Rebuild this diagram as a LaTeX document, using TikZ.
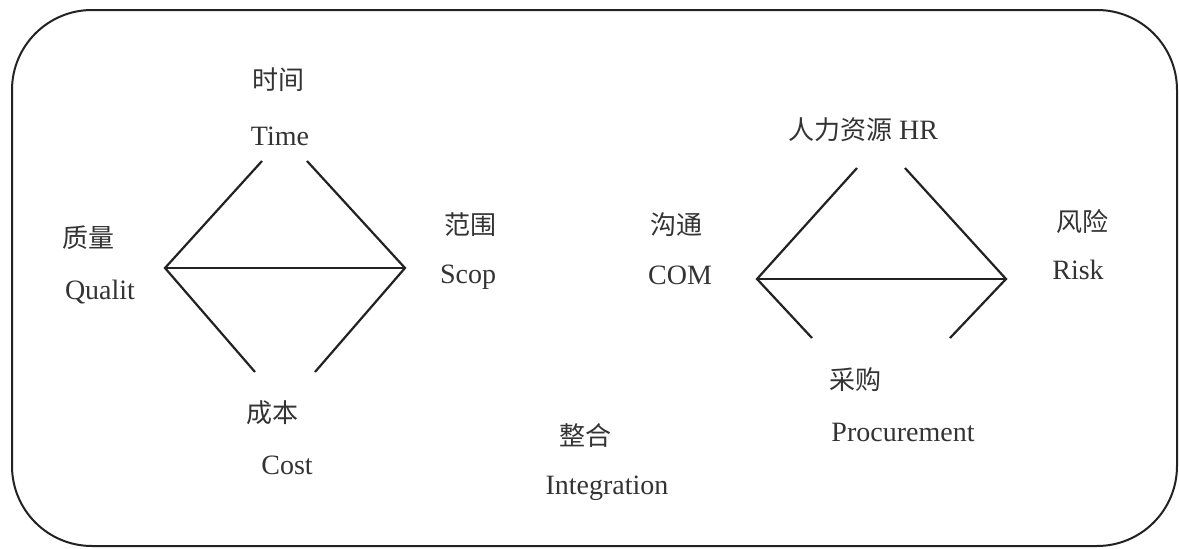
\documentclass[tikz,border=0pt]{standalone}
\usepackage{fontspec}
\setmainfont{Liberation Serif}
\newfontfamily\cjk{Noto Sans CJK SC}
\definecolor{ink}{HTML}{333333}
\definecolor{stroke}{HTML}{222222}
\begin{document}
\begin{tikzpicture}[x=1pt,y=-1pt,
  lbl/.style={text=ink,font=\fontsize{28}{30}\selectfont,inner sep=0pt,anchor=center},
  zh/.style={lbl,font=\fontsize{26}{28}\selectfont\cjk},
  edge/.style={draw=stroke,line width=2.2pt}]
\useasboundingbox (0,0) rectangle (1179,549);
\draw[draw=stroke,line width=2pt,rounded corners=80pt] (12,10) rectangle (1177,546);
% labels
\node[zh] (timezh) at (278,80) {时间};
\node[lbl] (time) at (280,136) {Time};
\node[zh] (qualzh) at (88,238) {质量};
\node[lbl] (qual) at (100,292) {Qualit};
\node[zh] (scopzh) at (470,225) {范围};
\node[lbl] (scop) at (468,277) {Scop};
\node[zh] (costzh) at (272,413) {成本};
\node[lbl] (cost) at (287,465) {Cost};
\node[zh] (comzh) at (676,225) {沟通};
\node[lbl] (com) at (680,275) {COM};
\node[lbl] (hr) at (863,130) {{\cjk\fontsize{26}{28}\selectfont 人力资源} HR};
\node[zh] (riskzh) at (1082,222) {风险};
\node[lbl] (risk) at (1078,270) {Risk};
\node[zh] (proczh) at (855,380) {采购};
\node[lbl] (proc) at (903,432) {Procurement};
\node[zh] (intzh) at (585,436) {整合};
\node[lbl] (int) at (607,488) {Integration};
% left diamond
\coordinate (lq) at (165,268);
\coordinate (ls) at (405,268);
\coordinate (lt1) at (262,161);
\coordinate (lt2) at (307,161);
\coordinate (lb1) at (255,372);
\coordinate (lb2) at (315,372);
\draw[edge] (lt1) -- (lq) -- (lb1);
\draw[edge] (lt2) -- (ls) -- (lb2);
\draw[edge] (lq) -- (ls);
% right diamond
\coordinate (rc) at (757,279);
\coordinate (rr) at (1006,279);
\coordinate (rt1) at (857,168);
\coordinate (rt2) at (905,168);
\coordinate (rb1) at (812,338);
\coordinate (rb2) at (950,338);
\draw[edge] (rt1) -- (rc) -- (rb1);
\draw[edge] (rt2) -- (rr) -- (rb2);
\draw[edge] (rc) -- (rr);
\end{tikzpicture}
\end{document}
